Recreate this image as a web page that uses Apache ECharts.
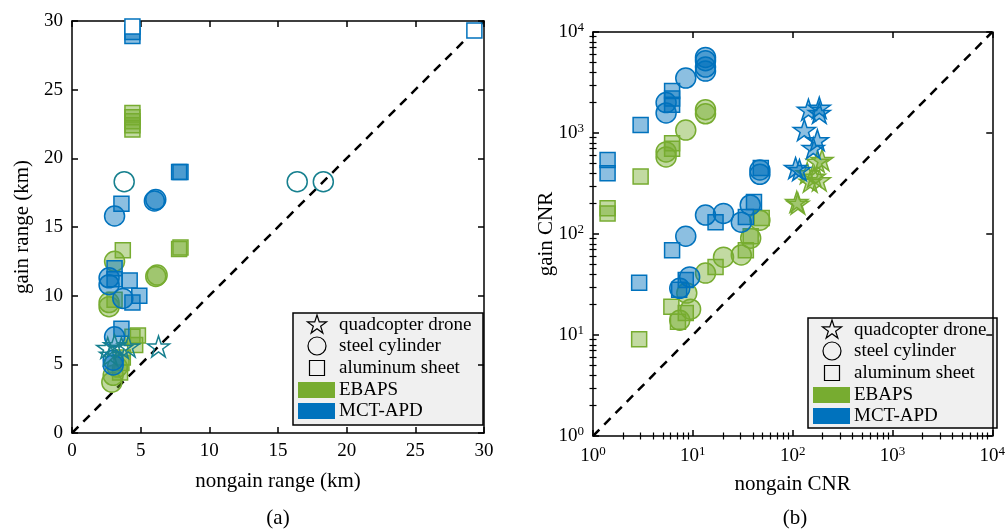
<!DOCTYPE html>
<html><head><meta charset="utf-8">
<script src="https://cdn.jsdelivr.net/npm/echarts@6/dist/echarts.min.js"></script>
<style>html,body{margin:0;padding:0;background:#fff}#c{width:1008px;height:529px}</style>
</head><body><div id="c"></div>
<script>
// ---------- DATA: panel (a) range (km) [nongain, gain] ----------
const rangeTicks = [0, 5, 10, 15, 20, 25, 30];
const aMctSquare = [[4.4,29.2],[4.4,28.9],[7.9,19.0],[7.8,19.0],[3.6,16.7],[3.1,12.0],[3.1,11.2],[4.2,11.1],[4.9,10.0],[4.4,9.5],[3.6,7.6]];
const aMctCircle = [[6.1,17.0],[6.0,16.9],[3.1,15.8],[2.7,11.3],[2.7,10.8],[3.7,9.8],[3.1,7.0],[3.0,5.3],[3.0,4.95]];
const aEbapsSquare = [[4.4,23.3],[4.4,23.0],[4.4,22.7],[4.4,22.4],[4.4,22.1],[3.7,13.3],[7.9,13.5],[7.8,13.4],[3.1,9.7],[4.8,7.1],[4.4,7.0],[4.6,6.4],[3.7,5.5],[3.6,5.1],[3.5,4.4]];
const aEbapsCircle = [[3.1,12.5],[6.2,11.5],[6.1,11.4],[2.7,9.5],[2.7,9.2],[3.3,4.8],[3.0,4.2],[2.9,3.7]];
const aOpenCircle = [[3.8,18.3],[16.4,18.3],[18.3,18.3]];
const aOpenSquare = [[29.3,29.3],[4.4,29.6]];
const aOpenStar = [[2.6,6.2],[3.1,6.4],[3.6,6.2],[4.1,6.3],[6.3,6.3],[2.8,5.7]];

// ---------- DATA: panel (b) CNR [nongain, gain] ----------
const cnrTicks = [1, 10, 100, 1000, 10000];
const cnrMinor = [2,3,4,5,6,7,8,9,20,30,40,50,60,70,80,90,200,300,400,500,600,700,800,900,2000,3000,4000,5000,6000,7000,8000,9000];
const bMctCircle = [[13.4,5600],[13.4,5200],[13.4,4500],[13.4,4100],[8.5,3500],[5.4,2000],[5.4,1580],[47,430],[47,390],[13.4,154],[20.3,160],[37.6,194],[30.6,131],[8.5,95],[9.3,37.6],[7.4,29]];
const bMctSquare = [[6.2,2600],[6.2,2200],[6.2,1900],[3.0,1200],[1.4,540],[1.4,400],[48,450],[6.2,69],[2.9,33],[16.9,131],[41,207],[34,147],[8.5,35],[7.3,28]];
const bMctStar = [[144,1700],[185,1780],[185,1580],[131,1070],[177,850],[161,710],[107,450],[117,430]];
const bEbapsCircle = [[13.4,1700],[13.4,1550],[8.5,1070],[5.4,650],[5.4,580],[47,137],[38,91],[30.6,62],[20.3,59],[13.4,41],[8.7,26],[9.5,18],[7.4,14]];
const bEbapsSquare = [[6.2,790],[6.2,700],[3.0,370],[1.4,180],[1.4,160],[49,144],[38,95],[34,69],[16.9,47],[6.1,19],[8.5,16.5],[7.1,13.5],[2.9,9.1]];
const bEbapsStar = [[177,520],[197,540],[140,400],[165,370],[150,330],[185,340],[110,208],[113,200]];

const legendLabels = ['quadcopter drone', 'steel cylinder', 'aluminum sheet', 'EBAPS', 'MCT-APD'];
const panelLabels = ['(a)', '(b)'];

// ---------- STYLE ----------
const FONT = 'Liberation Serif';
const BLUE = '#0072BD', GREEN = '#77AC30', TEAL = '#17808f';
const BLUE_F = 'rgba(0,114,189,0.45)', GREEN_F = 'rgba(119,172,48,0.45)';
const STAR = 'path://M100,0 L122.45,69.1 L195.11,69.1 L136.33,111.8 L158.78,180.9 L100,138.2 L41.22,180.9 L63.67,111.8 L4.89,69.1 L77.55,69.1 Z';

function sc(data, gi, symbol, size, stroke, fill) {
  return {
    type: 'scatter', xAxisIndex: gi * 2, yAxisIndex: gi * 2, data: data,
    symbol: symbol, symbolSize: size, symbolKeepAspect: true, silent: true, z: 3,
    itemStyle: { color: fill, borderColor: stroke, borderWidth: 1.5, opacity: 1 }
  };
}
const axisLineS = { show: true, onZero: false, lineStyle: { color: '#000', width: 1.5 } };
function linAxis(gi, pos, labels) {
  return {
    type: 'value', gridIndex: gi, position: pos, min: 0, max: 30, interval: 5,
    axisLine: axisLineS, splitLine: { show: false },
    axisTick: { show: true, inside: true, length: 6, lineStyle: { color: '#000', width: 1.5 } },
    axisLabel: { show: labels, fontFamily: FONT, fontSize: 19, color: '#000', margin: 9 }
  };
}
function logAxis(gi, pos, labels) {
  return {
    type: 'log', logBase: 10, gridIndex: gi, position: pos, min: cnrTicks[0], max: cnrTicks[cnrTicks.length - 1],
    axisLine: axisLineS, splitLine: { show: false },
    axisTick: { show: true, inside: true, length: 6, lineStyle: { color: '#000', width: 1.5 } },
    axisLabel: {
      show: labels, margin: 9, color: '#000',
      formatter: v => '{b|10}{s|' + Math.round(Math.log10(v)) + '}',
      rich: {
        b: { fontFamily: FONT, fontSize: 19, color: '#000' },
        s: { fontFamily: FONT, fontSize: 13, color: '#000', verticalAlign: 'top', padding: [0, 0, 9, 0] }
      }
    }
  };
}
// minor log ticks: overlay value axis in log10 space
function minorAxis(gi, pos) {
  return {
    type: 'value', gridIndex: gi, position: pos, min: 0, max: 4,
    axisLine: { show: false }, splitLine: { show: false }, axisLabel: { show: false },
    axisTick: { show: true, inside: true, length: 3.5, customValues: cnrMinor.map(v => Math.log10(v)), lineStyle: { color: '#000', width: 1.2 } }
  };
}
const nameStyle = { fontFamily: FONT, fontSize: 21, color: '#000' };

const xA0 = Object.assign(linAxis(0, 'bottom', true), { name: 'nongain range (km)', nameLocation: 'middle', nameGap: 38, nameMoveOverlap: false, nameTextStyle: nameStyle });
const yA0 = Object.assign(linAxis(0, 'left', true), { name: 'gain range (km)', nameLocation: 'middle', nameGap: 39, nameMoveOverlap: false, nameTextStyle: nameStyle });
const xA2 = Object.assign(logAxis(1, 'bottom', true), { name: 'nongain CNR', nameLocation: 'middle', nameGap: 38, nameMoveOverlap: false, nameTextStyle: nameStyle });
const yA2 = Object.assign(logAxis(1, 'left', true), { name: 'gain CNR', nameLocation: 'middle', nameGap: 36, nameMoveOverlap: false, nameTextStyle: nameStyle });

function starPoints(cx, cy, r) {
  const pts = [];
  for (let i = 0; i < 10; i++) {
    const a = -Math.PI / 2 + i * Math.PI / 5;
    const rr = i % 2 === 0 ? r : r * 0.382;
    pts.push([cx + rr * Math.cos(a), cy + rr * Math.sin(a)]);
  }
  return pts;
}
function legendGroup(x0, y0, w, h) {
  const els = [];
  els.push({ type: 'rect', shape: { x: x0, y: y0, width: w, height: h }, style: { fill: '#f0f0f0', stroke: '#000', lineWidth: 1.5 } });
  const ix = x0 + 24, tx = x0 + 46, rows = [y0 + 12, y0 + 33, y0 + 55, y0 + 77, y0 + 98];
  els.push({ type: 'polygon', shape: { points: starPoints(ix, rows[0], 10) }, style: { fill: 'none', stroke: '#000', lineWidth: 1.2 } });
  els.push({ type: 'circle', shape: { cx: ix, cy: rows[1], r: 9 }, style: { fill: 'none', stroke: '#000', lineWidth: 1.2 } });
  els.push({ type: 'rect', shape: { x: ix - 7.5, y: rows[2] - 7.5, width: 15, height: 15 }, style: { fill: 'none', stroke: '#000', lineWidth: 1.2 } });
  els.push({ type: 'rect', shape: { x: x0 + 5, y: rows[3] - 8, width: 37, height: 16 }, style: { fill: GREEN } });
  els.push({ type: 'rect', shape: { x: x0 + 5, y: rows[4] - 8, width: 37, height: 16 }, style: { fill: BLUE } });
  legendLabels.forEach((t, i) => {
    els.push({ type: 'text', style: { text: t, x: tx, y: rows[i], fontFamily: FONT, fontSize: 19, fill: '#000', textVerticalAlign: 'middle', verticalAlign: 'middle' } });
  });
  return els;
}

const option = {
  backgroundColor: '#fff',
  animation: false,
  grid: [
    { left: 72, top: 21, width: 412, height: 412 },
    { left: 593, top: 32, width: 404, height: 404 }
  ],
  xAxis: [xA0, linAxis(0, 'top', false), xA2, logAxis(1, 'top', false), minorAxis(1, 'bottom'), minorAxis(1, 'top')],
  yAxis: [yA0, linAxis(0, 'right', false), yA2, logAxis(1, 'right', false), minorAxis(1, 'left'), minorAxis(1, 'right')],
  series: [
    { type: 'line', xAxisIndex: 0, yAxisIndex: 0, data: [[rangeTicks[0], rangeTicks[0]], [rangeTicks[6], rangeTicks[6]]], symbol: 'none', silent: true, z: 2,
      lineStyle: { color: '#000', width: 2.5, type: [9, 7] } },
    { type: 'line', xAxisIndex: 2, yAxisIndex: 2, data: [[cnrTicks[0], cnrTicks[0]], [cnrTicks[4], cnrTicks[4]]], symbol: 'none', silent: true, z: 2,
      lineStyle: { color: '#000', width: 2.5, type: [9, 7] } },
    sc(aEbapsSquare, 0, 'rect', 15, GREEN, GREEN_F),
    sc(aEbapsCircle, 0, 'circle', 20, GREEN, GREEN_F),
    sc(aMctSquare, 0, 'rect', 15, BLUE, BLUE_F),
    sc(aMctCircle, 0, 'circle', 20, BLUE, BLUE_F),
    sc(aOpenCircle, 0, 'circle', 20, TEAL, 'rgba(255,255,255,0)'),
    sc(aOpenSquare, 0, 'rect', 15, BLUE, '#fff'),
    sc(aOpenStar, 0, STAR, 22, TEAL, 'rgba(255,255,255,0)'),
    sc(bEbapsSquare, 1, 'rect', 15, GREEN, GREEN_F),
    sc(bEbapsCircle, 1, 'circle', 20, GREEN, GREEN_F),
    sc(bEbapsStar, 1, STAR, 22, GREEN, GREEN_F),
    sc(bMctSquare, 1, 'rect', 15, BLUE, BLUE_F),
    sc(bMctCircle, 1, 'circle', 20, BLUE, BLUE_F),
    sc(bMctStar, 1, STAR, 22, BLUE, BLUE_F)
  ],
  graphic: [].concat(
    legendGroup(293, 313, 190, 112),
    legendGroup(808, 318, 189, 110),
    [
      { type: 'text', style: { text: panelLabels[0], x: 278, y: 518, fontFamily: FONT, fontSize: 21, fill: '#000', textAlign: 'center', textVerticalAlign: 'middle', align: 'center', verticalAlign: 'middle' } },
      { type: 'text', style: { text: panelLabels[1], x: 795, y: 518, fontFamily: FONT, fontSize: 21, fill: '#000', textAlign: 'center', textVerticalAlign: 'middle', align: 'center', verticalAlign: 'middle' } }
    ]
  )
};
const chart = echarts.init(document.getElementById('c'), null, { renderer: 'canvas' });
chart.setOption(option);
</script></body></html>
